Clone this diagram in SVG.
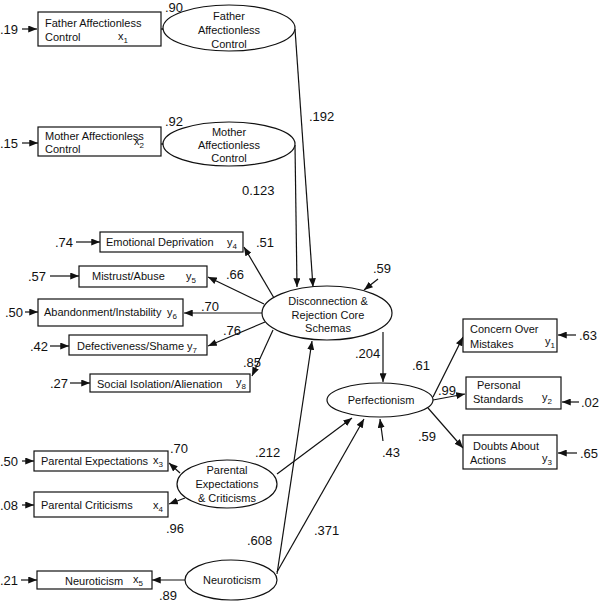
<svg xmlns="http://www.w3.org/2000/svg" width="601" height="606" viewBox="0 0 601 606">
<style>
text{font-family:"Liberation Sans",Arial,sans-serif;fill:#111}
.t{font-size:11px}
.c{font-size:11px;text-anchor:middle}
.l{font-size:13px}
.s{font-size:8px}
.n{fill:#fff;stroke:#111;stroke-width:1.2}
.e line{stroke:#111;stroke-width:1.2}
</style>
<defs>
<marker id="ah" viewBox="0 0 10 8" refX="10" refY="4" markerWidth="9" markerHeight="7" orient="auto" markerUnits="userSpaceOnUse"><path d="M0,0 L10,4 L0,8 z" fill="#111"/></marker>
</defs>
<rect width="601" height="606" fill="#fff"/>
<g id="connectors" class="e">
<line x1="295" y1="29" x2="313" y2="287" marker-end="url(#ah)"/>
<line x1="295" y1="145" x2="297" y2="287" marker-end="url(#ah)"/>
<line x1="163" y1="29" x2="161" y2="29" marker-end="url(#ah)"/>
<line x1="163" y1="144" x2="161" y2="144" marker-end="url(#ah)"/>
<line x1="22" y1="29" x2="37" y2="29" marker-end="url(#ah)"/>
<line x1="22" y1="143" x2="38" y2="143" marker-end="url(#ah)"/>
<line x1="274" y1="298" x2="244" y2="247" marker-end="url(#ah)"/>
<line x1="264" y1="304" x2="208" y2="277" marker-end="url(#ah)"/>
<line x1="262" y1="313" x2="184" y2="313" marker-end="url(#ah)"/>
<line x1="265" y1="322" x2="208" y2="346" marker-end="url(#ah)"/>
<line x1="273" y1="330" x2="252" y2="376" marker-end="url(#ah)"/>
<line x1="76" y1="242" x2="100" y2="242" marker-end="url(#ah)"/>
<line x1="50" y1="276" x2="79" y2="276" marker-end="url(#ah)"/>
<line x1="25" y1="312" x2="38" y2="312" marker-end="url(#ah)"/>
<line x1="50" y1="346" x2="69" y2="346" marker-end="url(#ah)"/>
<line x1="70" y1="383" x2="90" y2="383" marker-end="url(#ah)"/>
<line x1="378" y1="279" x2="364" y2="290" marker-end="url(#ah)"/>
<line x1="383" y1="332" x2="383" y2="382" marker-end="url(#ah)"/>
<line x1="383" y1="441" x2="380" y2="419" marker-end="url(#ah)"/>
<line x1="433" y1="397" x2="463" y2="337" marker-end="url(#ah)"/>
<line x1="433" y1="400" x2="465" y2="394" marker-end="url(#ah)"/>
<line x1="428" y1="408" x2="463" y2="448" marker-end="url(#ah)"/>
<line x1="576" y1="335" x2="558" y2="335" marker-end="url(#ah)"/>
<line x1="579" y1="402" x2="562" y2="402" marker-end="url(#ah)"/>
<line x1="577" y1="453" x2="558" y2="453" marker-end="url(#ah)"/>
<line x1="22" y1="461" x2="34" y2="461" marker-end="url(#ah)"/>
<line x1="22" y1="505" x2="34" y2="505" marker-end="url(#ah)"/>
<line x1="180" y1="473" x2="169" y2="463" marker-end="url(#ah)"/>
<line x1="185" y1="498" x2="169" y2="504" marker-end="url(#ah)"/>
<line x1="277" y1="474" x2="352" y2="418" marker-end="url(#ah)"/>
<line x1="277" y1="574" x2="312" y2="341" marker-end="url(#ah)"/>
<line x1="277" y1="572" x2="364" y2="419" marker-end="url(#ah)"/>
<line x1="185" y1="580" x2="152" y2="580" marker-end="url(#ah)"/>
<line x1="21" y1="580" x2="37" y2="580" marker-end="url(#ah)"/>
</g>
<g id="father_obs">
<rect class="n" x="38" y="12" width="123" height="34"/>
<text class="t" x="45" y="27">Father Affectionless</text>
<text class="t" x="45" y="41">Control</text>
<text class="t" x="118" y="40">x<tspan class="s" dy="3">1</tspan></text>
</g>
<g id="father_lat">
<ellipse class="n" cx="229" cy="28" rx="66" ry="23"/>
<text class="c" x="229" y="20">Father</text>
<text class="c" x="229" y="34">Affectionless</text>
<text class="c" x="229" y="48">Control</text>
</g>
<g id="mother_obs">
<rect class="n" x="38" y="127" width="123" height="29"/>
<text class="t" x="45" y="140">Mother Affectionless</text>
<text class="t" x="45" y="153">Control</text>
<text class="t" x="134" y="145">x<tspan class="s" dy="3">2</tspan></text>
</g>
<g id="mother_lat">
<ellipse class="n" cx="229" cy="144" rx="66" ry="22"/>
<text class="c" x="229" y="136">Mother</text>
<text class="c" x="229" y="149">Affectionless</text>
<text class="c" x="229" y="162">Control</text>
</g>
<g id="emo">
<rect class="n" x="100" y="232" width="143" height="20"/>
<text class="t" x="106" y="246">Emotional Deprivation</text>
<text class="t" x="227" y="246">y<tspan class="s" dy="3">4</tspan></text>
</g>
<g id="mistrust">
<rect class="n" x="79" y="266" width="128" height="21"/>
<text class="t" x="92" y="280">Mistrust/Abuse</text>
<text class="t" x="186" y="280">y<tspan class="s" dy="3">5</tspan></text>
</g>
<g id="aband">
<rect class="n" x="38" y="299" width="145" height="27"/>
<text class="t" x="44" y="316">Abandonment/Instability</text>
<text class="t" x="167" y="316">y<tspan class="s" dy="3">6</tspan></text>
</g>
<g id="defect">
<rect class="n" x="69" y="335" width="138" height="20"/>
<text class="t" x="77" y="350">Defectiveness/Shame</text>
<text class="t" x="187" y="350">y<tspan class="s" dy="3">7</tspan></text>
</g>
<g id="social">
<rect class="n" x="90" y="374" width="160" height="18"/>
<text class="t" x="97" y="388">Social Isolation/Alienation</text>
<text class="t" x="236" y="386">y<tspan class="s" dy="3">8</tspan></text>
</g>
<g id="disconnection">
<ellipse class="n" cx="327" cy="313" rx="65" ry="27"/>
<text class="c" x="328" y="305">Disconnection &amp;</text>
<text class="c" x="328" y="319">Rejection Core</text>
<text class="c" x="328" y="332">Schemas</text>
</g>
<g id="perfectionism">
<ellipse class="n" cx="380" cy="400" rx="53" ry="17"/>
<text class="c" x="381" y="404">Perfectionism</text>
</g>
<g id="concern">
<rect class="n" x="463" y="319" width="94" height="33"/>
<text class="t" x="470" y="333">Concern Over</text>
<text class="t" x="470" y="348">Mistakes</text>
<text class="t" x="545" y="345">y<tspan class="s" dy="3">1</tspan></text>
</g>
<g id="personal">
<rect class="n" x="466" y="377" width="95" height="32"/>
<text class="t" x="477" y="389">Personal</text>
<text class="t" x="473" y="403">Standards</text>
<text class="t" x="542" y="401">y<tspan class="s" dy="3">2</tspan></text>
</g>
<g id="doubts">
<rect class="n" x="463" y="435" width="94" height="34"/>
<text class="t" x="473" y="450">Doubts About</text>
<text class="t" x="470" y="464">Actions</text>
<text class="t" x="542" y="462">y<tspan class="s" dy="3">3</tspan></text>
</g>
<g id="parexp_obs">
<rect class="n" x="34" y="451" width="134" height="20"/>
<text class="t" x="41" y="465">Parental Expectations</text>
<text class="t" x="153" y="464">x<tspan class="s" dy="3">3</tspan></text>
</g>
<g id="parcrit_obs">
<rect class="n" x="34" y="492" width="134" height="25"/>
<text class="t" x="41" y="509">Parental Criticisms</text>
<text class="t" x="153" y="509">x<tspan class="s" dy="3">4</tspan></text>
</g>
<g id="parental_lat">
<ellipse class="n" cx="227" cy="484" rx="50" ry="24"/>
<text class="c" x="227" y="474">Parental</text>
<text class="c" x="227" y="488">Expectations</text>
<text class="c" x="227" y="502">&amp; Criticisms</text>
</g>
<g id="neuro_obs">
<rect class="n" x="37" y="571" width="115" height="18"/>
<text class="t" x="65" y="585">Neuroticism</text>
<text class="t" x="133" y="583">x<tspan class="s" dy="3">5</tspan></text>
</g>
<g id="neuro_lat">
<ellipse class="n" cx="231" cy="580" rx="46" ry="20"/>
<text class="c" x="232" y="584">Neuroticism</text>
</g>
<g id="labels">
<text class="l" x="165" y="12">.90</text>
<text class="l" x="0" y="34">.19</text>
<text class="l" x="165" y="126">.92</text>
<text class="l" x="0" y="148">.15</text>
<text class="l" x="309" y="121">.192</text>
<text class="l" x="242" y="195">0.123</text>
<text class="l" x="55" y="247">.74</text>
<text class="l" x="256" y="247">.51</text>
<text class="l" x="28" y="281">.57</text>
<text class="l" x="226" y="279">.66</text>
<text class="l" x="5" y="317">.50</text>
<text class="l" x="201" y="311">.70</text>
<text class="l" x="30" y="351">.42</text>
<text class="l" x="223" y="335">.76</text>
<text class="l" x="50" y="388">.27</text>
<text class="l" x="243" y="367">.85</text>
<text class="l" x="373" y="273">.59</text>
<text class="l" x="355" y="358">.204</text>
<text class="l" x="382" y="457">.43</text>
<text class="l" x="412" y="370">.61</text>
<text class="l" x="438" y="395">.99</text>
<text class="l" x="418" y="441">.59</text>
<text class="l" x="579" y="340">.63</text>
<text class="l" x="581" y="407">.02</text>
<text class="l" x="580" y="458">.65</text>
<text class="l" x="0" y="466">.50</text>
<text class="l" x="0" y="510">.08</text>
<text class="l" x="170" y="453">.70</text>
<text class="l" x="166" y="533">.96</text>
<text class="l" x="255" y="457">.212</text>
<text class="l" x="247" y="545">.608</text>
<text class="l" x="314" y="535">.371</text>
<text class="l" x="0" y="585">.21</text>
<text class="l" x="159" y="600">.89</text>
</g>
</svg>
